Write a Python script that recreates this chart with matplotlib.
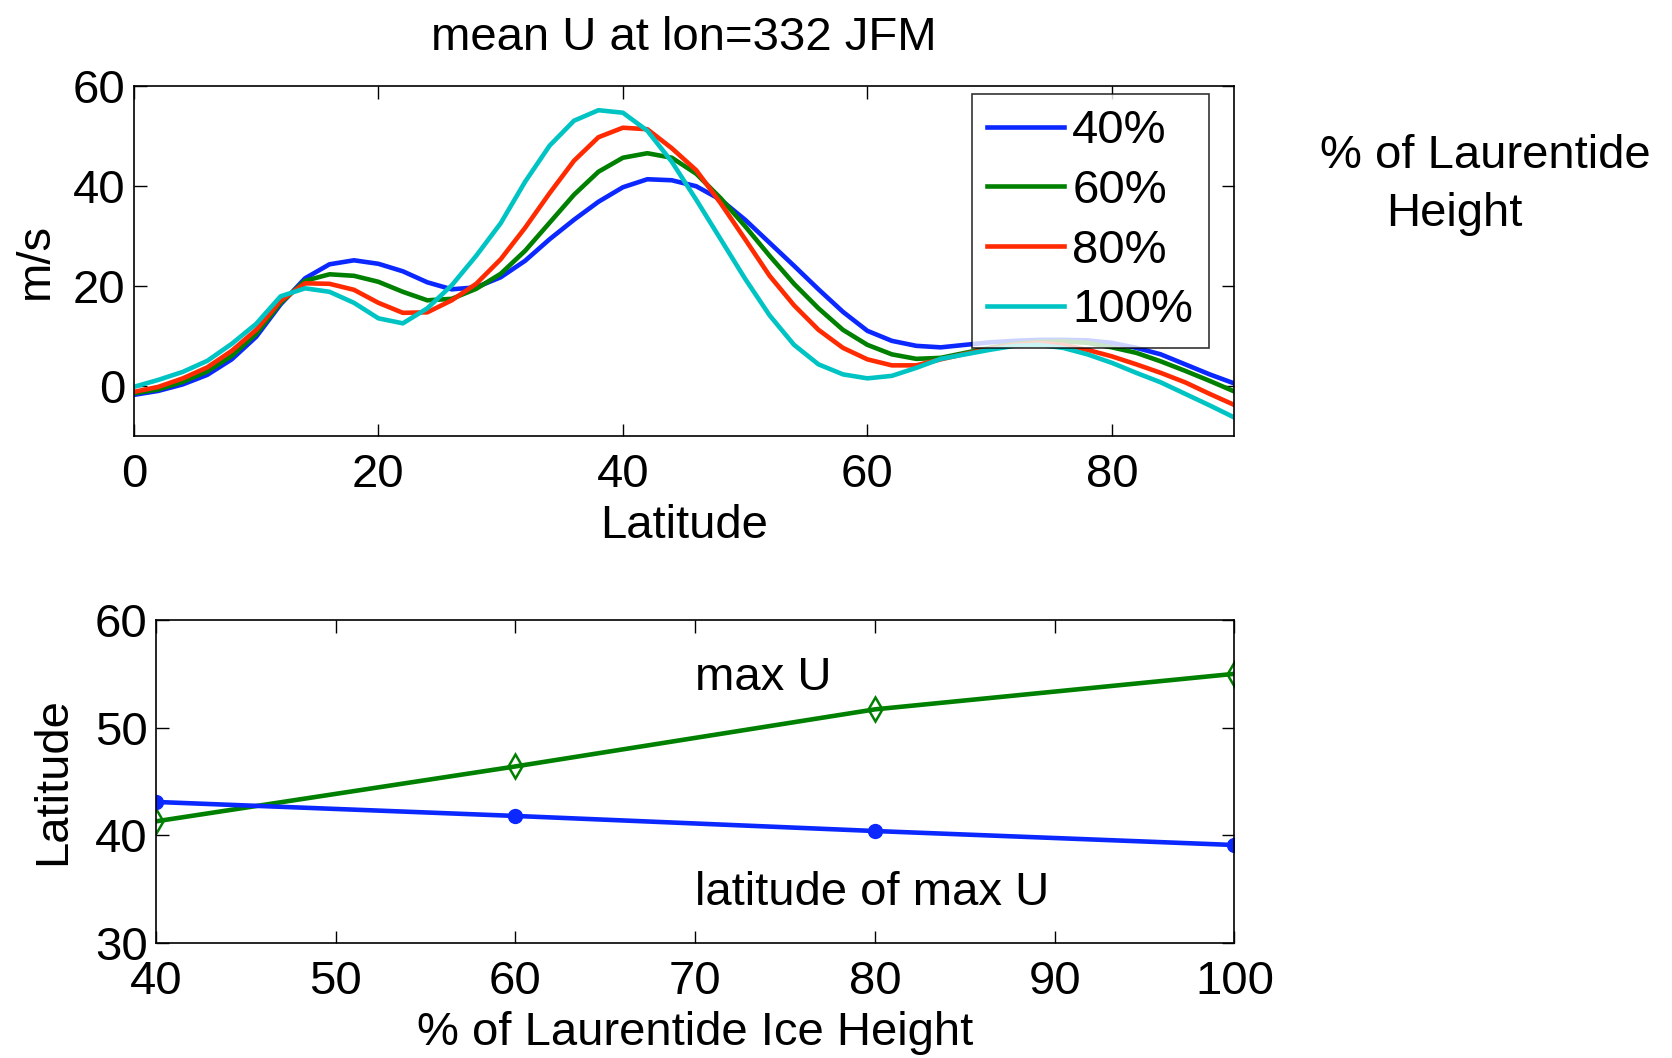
import numpy as np
import matplotlib
matplotlib.use("Agg")
import matplotlib.pyplot as plt

plt.rcParams['font.family'] = ['Liberation Sans', 'DejaVu Sans']

# ---- data: top panel (mean U vs latitude) ----
lat = [0, 2, 4, 6, 8, 10, 12, 14, 16, 18, 20, 22, 24, 26, 28, 30, 32, 34, 36, 38, 40, 42, 44,
       46, 48, 50, 52, 54, 56, 58, 60, 62, 64, 66, 68, 70, 72, 74, 76, 78, 80, 82, 84, 86, 88, 90]
u40 = [-1.8, -1.0, 0.3, 2.2, 5.3, 9.8, 16.3, 21.5, 24.3, 25.1, 24.4, 22.9, 20.7, 19.3, 19.7,
       21.7, 25.0, 29.3, 33.2, 36.8, 39.7, 41.3, 41.1, 39.9, 37.2, 33.2, 28.6, 24.0, 19.3, 14.8,
       11.0, 9.0, 8.0, 7.7, 8.2, 8.7, 9.0, 9.2, 9.2, 9.1, 8.6, 7.6, 6.3, 4.3, 2.3, 0.5]
u60 = [-1.5, -0.7, 0.8, 2.9, 6.0, 10.4, 16.6, 21.0, 22.3, 22.0, 20.8, 18.8, 17.1, 17.4, 19.4,
       22.4, 27.0, 32.6, 38.2, 42.8, 45.6, 46.5, 45.6, 42.4, 37.5, 31.9, 26.0, 20.4, 15.5, 11.2,
       8.2, 6.3, 5.4, 5.6, 6.6, 7.6, 8.4, 8.8, 8.9, 8.6, 7.7, 6.6, 4.9, 3.0, 1.0, -1.1]
u80 = [-1.2, -0.2, 1.5, 3.7, 7.0, 11.2, 17.0, 20.5, 20.4, 19.2, 16.6, 14.6, 14.7, 17.1, 20.4,
       25.3, 31.6, 38.5, 45.0, 49.7, 51.6, 51.3, 47.5, 43.1, 36.5, 29.3, 22.0, 16.1, 11.2, 7.6,
       5.3, 4.1, 4.1, 5.3, 6.4, 7.4, 8.2, 8.6, 8.2, 7.2, 5.9, 4.3, 2.6, 0.7, -1.6, -3.8]
u100 = [-0.2, 1.2, 2.8, 5.0, 8.4, 12.4, 17.9, 19.5, 18.8, 16.6, 13.5, 12.5, 15.5, 20.1, 26.0,
        32.5, 40.8, 48.0, 53.0, 55.1, 54.6, 51.0, 44.8, 37.2, 29.3, 21.4, 14.1, 8.2, 4.3, 2.3,
        1.5, 2.0, 3.6, 5.4, 6.3, 7.2, 8.0, 8.2, 7.6, 6.3, 4.6, 2.6, 0.7, -1.6, -3.9, -6.3]
series_labels = ['40%', '60%', '80%', '100%']

# ---- data: bottom panel ----
pct = [40, 60, 80, 100]
max_u = [41.3, 46.4, 51.7, 55.0]
lat_max_u = [43.1, 41.8, 40.4, 39.1]

colors = ['#0a28ff', '#008000', '#ff2a00', '#00c4c4']
FS = 34

fig = plt.figure(figsize=(16.72, 10.58), dpi=100)

ax1 = fig.add_axes([0.0801, 0.588, 0.658, 0.331])
for ys, c, lab in zip([u40, u60, u80, u100], colors, series_labels):
    ax1.plot(lat, ys, color=c, lw=3.3, label=lab, solid_joinstyle='round')
ax1.set_xlim(0, 90)
ax1.set_ylim(-10, 60)
ax1.set_xticks([0, 20, 40, 60, 80])
ax1.set_yticks([0, 20, 40, 60])
ax1.set_xlabel('Latitude', fontsize=FS, labelpad=5)
ax1.set_ylabel('m/s', fontsize=FS, labelpad=11)
ax1.set_title('mean U at lon=332 JFM', fontsize=FS, pad=26)
leg = ax1.legend(loc='upper right', bbox_to_anchor=(0.977, 0.977), fontsize=FS,
                 frameon=True, fancybox=False, handlelength=1.62, handletextpad=0.18,
                 labelspacing=0.33, borderpad=0.33, borderaxespad=0)
leg.get_frame().set_edgecolor('black')
leg.get_frame().set_linewidth(1.2)

ax2 = fig.add_axes([0.0933, 0.1087, 0.645, 0.3053])
ax2.plot(pct, max_u, color='#008000', lw=3.3, marker='d', mfc='none', mec='#008000',
         ms=12, mew=1.8)
ax2.plot(pct, lat_max_u, color='#0a28ff', lw=3.3, marker='o', mfc='#0a28ff', mec='#0a28ff',
         ms=10)
ax2.set_xlim(40, 100)
ax2.set_ylim(30, 60)
ax2.set_xticks([40, 50, 60, 70, 80, 90, 100])
ax2.set_yticks([30, 40, 50, 60])
ax2.set_xlabel('% of Laurentide Ice Height', fontsize=FS, labelpad=5)
ax2.set_ylabel('Latitude', fontsize=FS, labelpad=14)
ax2.text(70, 54.6, 'max U', fontsize=FS, ha='left', va='center')
ax2.text(70, 34.6, 'latitude of max U', fontsize=FS, ha='left', va='center')

for ax in (ax1, ax2):
    ax.tick_params(direction='in', length=9, width=1, labelsize=FS, top=True, right=True)
    ax.tick_params(axis='x', pad=12)
    ax.tick_params(axis='y', pad=6)
    for s in ax.spines.values():
        s.set_linewidth(1.2)

fig.text(1320 / 1672, 1 - 156 / 1058, '% of Laurentide', fontsize=FS, ha='left', va='center')
fig.text(1386 / 1672, 1 - 214 / 1058, 'Height', fontsize=FS, ha='left', va='center')

fig.savefig('out.png', dpi=100)
